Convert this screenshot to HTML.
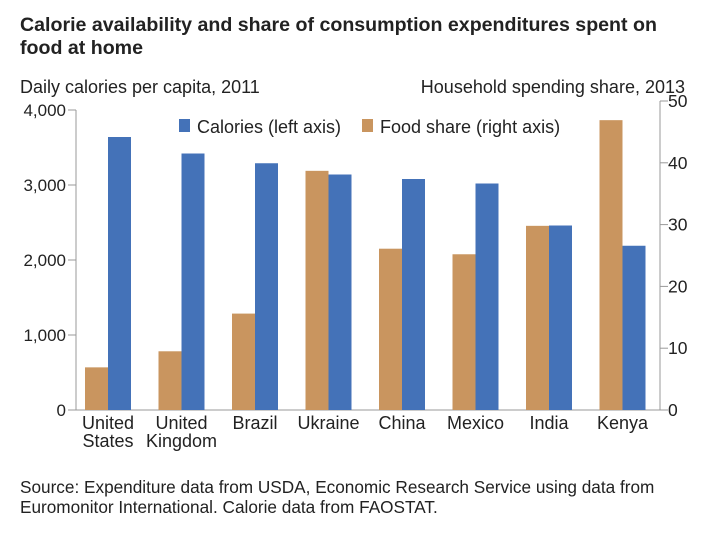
<!DOCTYPE html>
<html><head><meta charset="utf-8">
<style>
body{margin:0;background:#fff;font-family:"Liberation Sans",Arial,sans-serif;}
svg text{font-family:"Liberation Sans",Arial,sans-serif;}
</style></head><body>
<svg id="chart" width="720" height="540" viewBox="0 0 720 540" xmlns="http://www.w3.org/2000/svg">
<text x="20" y="31" font-size="19.6" font-weight="bold" fill="#222">Calorie availability and share of consumption expenditures spent on</text>
<text x="20" y="54" font-size="19.6" font-weight="bold" fill="#222">food at home</text>
<text x="20" y="93" font-size="18" fill="#222">Daily calories per capita, 2011</text>
<text x="685" y="93" font-size="18" fill="#222" text-anchor="end">Household spending share, 2013</text>
<g id="axes"></g>
<g id="bars"></g>
<g>
<rect x="179" y="119" width="11" height="13" fill="#4472b8"/>
<text x="197" y="133" font-size="18" fill="#222">Calories (left axis)</text>
<rect x="362" y="119" width="11" height="13" fill="#c9955f"/>
<text x="380" y="133" font-size="18" fill="#222">Food share (right axis)</text>
</g>
<text x="20" y="493" font-size="17.2" fill="#222">Source: Expenditure data from USDA, Economic Research Service using data from</text>
<text x="20" y="513" font-size="17.2" fill="#222">Euromonitor International. Calorie data from FAOSTAT.</text>
</svg>
<script>
const categories=[["United","States"],["United","Kingdom"],["Brazil"],["Ukraine"],["China"],["Mexico"],["India"],["Kenya"]];
const calories=[3640,3420,3290,3140,3080,3020,2460,2190];
const foodShare=[6.9,9.5,15.6,38.7,26.1,25.2,29.8,46.9];
const leftTicks=[0,1000,2000,3000,4000];
const leftTickLabels=["0","1,000","2,000","3,000","4,000"];
const rightTicks=[0,10,20,30,40,50];
const NS="http://www.w3.org/2000/svg";
const x0=76,x1=660,yBase=410;
const yL=v=>yBase-v/4000*300;
const yR=v=>yBase-v/50*309;
const groupW=73.5,first=108,bw=23;
const xc=i=>first+i*groupW;
function mk(tag,attrs,parent){const e=document.createElementNS(NS,tag);for(const k in attrs)e.setAttribute(k,attrs[k]);parent.appendChild(e);return e;}
const axes=document.getElementById('axes'),bars=document.getElementById('bars');
let e=mk('line',{x1:x0,y1:yL(4000),x2:x0,y2:yBase,stroke:'#999','stroke-width':1},axes);


e=mk('line',{x1:x1,y1:yR(50),x2:x1,y2:yBase,stroke:'#999','stroke-width':1},axes);


e=mk('line',{x1:x0,y1:yBase,x2:x1,y2:yBase,stroke:'#999','stroke-width':1},axes);


leftTicks.forEach((v,i)=>{
 const t=mk('line',{x1:x0-8,x2:x0,y1:yL(v),y2:yL(v),stroke:'#999'},axes);
 
 
 const l=mk('text',{x:x0-10,y:yL(v)+6,'font-size':17,'text-anchor':'end',fill:'#222'},axes);
 l.textContent=leftTickLabels[i];
 
 
});
rightTicks.forEach(v=>{
 const t=mk('line',{x1:x1,x2:x1+8,y1:yR(v),y2:yR(v),stroke:'#999'},axes);
 
 
 const l=mk('text',{x:x1+8,y:yR(v)+6,'font-size':17.5,fill:'#222'},axes);
 l.textContent=String(v);
 
 
});
categories.forEach((c,i)=>{
 const cx=xc(i);
 const f=mk('rect',{x:cx-bw,y:yR(foodShare[i]),width:bw,height:yBase-yR(foodShare[i]),fill:'#c9955f'},bars);
 
 
 const b=mk('rect',{x:cx,y:yL(calories[i]),width:bw,height:yBase-yL(calories[i]),fill:'#4472b8'},bars);
 
 
 c.forEach((line,j)=>{
  const l=mk('text',{x:cx,y:429+j*18,'font-size':18,'text-anchor':'middle',fill:'#222'},axes);
  l.textContent=line;
  
  
 });
});
</script>
</body></html>
